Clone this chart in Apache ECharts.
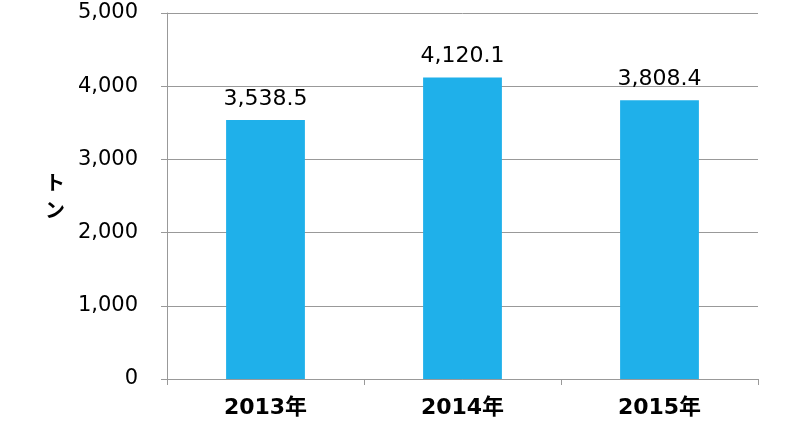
<!DOCTYPE html>
<html><head><meta charset="utf-8">
<script src="https://cdn.jsdelivr.net/npm/echarts@6/dist/echarts.min.js"></script>
<style>html,body{margin:0;padding:0;background:#fff}#c{width:800px;height:423px}</style>
</head><body><div id="c"></div>
<script>
const categories = ['2013年', '2014年', '2015年'];
const values = [3538.5, 4120.1, 3808.4];
const yTitle = 'ト\nン';
const fontFam = '"DejaVu Sans", "Noto Sans CJK JP", sans-serif';
const chart = echarts.init(document.getElementById('c'), null, {renderer: 'canvas'});
chart.setOption({
  animation: false,
  backgroundColor: '#ffffff',
  grid: {left: 167, right: 42, top: 13, bottom: 44, containLabel: false},
  xAxis: {
    type: 'category', data: categories,
    axisLine: {lineStyle: {color: '#999999', width: 1}},
    axisTick: {show: true, alignWithLabel: false, length: 6, lineStyle: {color: '#999999'}},
    axisLabel: {color: '#000', fontSize: 22, fontWeight: 'bold', fontFamily: fontFam, margin: 18}
  },
  yAxis: {
    type: 'value', min: 0, max: 5000, interval: 1000,
    name: yTitle, nameLocation: 'middle', nameRotate: 0, nameGap: 102,
    nameTextStyle: {color: '#000', fontSize: 20, fontWeight: 'bold', lineHeight: 28,
      fontFamily: '"Noto Sans CJK JP", sans-serif'},
    axisLine: {show: true, lineStyle: {color: '#999999', width: 1}},
    axisTick: {show: true, length: 6, lineStyle: {color: '#999999'}},
    splitLine: {show: true, lineStyle: {color: '#999999', width: 1}},
    axisLabel: {color: '#000', fontSize: 21, fontFamily: fontFam, margin: 29,
      formatter: v => v.toLocaleString('en-US')}
  },
  series: [{
    type: 'bar', data: values, barWidth: '40%',
    itemStyle: {color: '#1FB0EA'},
    label: {show: true, position: 'top', distance: 10, color: '#000', fontSize: 22, fontFamily: fontFam,
      formatter: p => p.value.toLocaleString('en-US', {minimumFractionDigits: 1, maximumFractionDigits: 1})}
  }]
});
</script></body></html>
